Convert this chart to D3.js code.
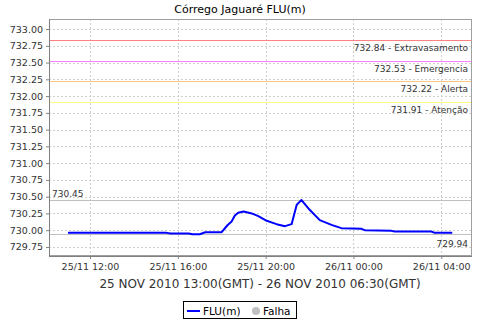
<!DOCTYPE html>
<html lang="pt">

<head>
	<meta charset="UTF-8" />
	<title>Córrego Jaguaré FLU(m)</title>
	<script src="https://cdn.jsdelivr.net/npm/d3@7"></script>
	<style>
		body { margin: 0; background: #fff; }
		text { font-family: "DejaVu Sans", sans-serif; }
	</style>
</head>

<body>
	<svg id="vis" width="480" height="320"></svg>
</body>

</html>
<script>
	// hora local (25/11 -> 26/11/2010)
	const times = [
		"2010-11-25 11:00", "2010-11-25 15:30", "2010-11-25 15:40", "2010-11-25 16:30",
		"2010-11-25 16:40", "2010-11-25 17:00", "2010-11-25 17:15", "2010-11-25 18:00",
		"2010-11-25 18:15", "2010-11-25 18:27", "2010-11-25 18:36", "2010-11-25 18:45",
		"2010-11-25 19:00", "2010-11-25 19:22", "2010-11-25 19:40", "2010-11-25 20:03",
		"2010-11-25 20:30", "2010-11-25 20:53", "2010-11-25 21:11", "2010-11-25 21:25",
		"2010-11-25 21:38", "2010-11-25 22:01", "2010-11-25 22:28", "2010-11-25 23:00",
		"2010-11-25 23:27", "2010-11-26 00:22", "2010-11-26 00:31", "2010-11-26 01:44",
		"2010-11-26 01:53", "2010-11-26 03:33", "2010-11-26 03:42", "2010-11-26 04:30"
	];
	const levels = [
		729.96, 729.96, 729.95, 729.95,
		729.94, 729.94, 729.97, 729.97,
		730.07, 730.13, 730.22, 730.26,
		730.28, 730.25, 730.21, 730.14,
		730.09, 730.06, 730.09, 730.38,
		730.45, 730.30, 730.15, 730.08,
		730.03, 730.02, 730.00, 729.99,
		729.98, 729.98, 729.96, 729.96
	];

	const thresholdValues = [732.84, 732.53, 732.22, 731.91];
	const thresholdNames = ["Extravasamento", "Emergencia", "Alerta", "Atenção"];
	const maxLevel = 730.45;
	const minLevel = 729.94;

	const yTicks = [729.75, 730.00, 730.25, 730.50, 730.75, 731.00, 731.25, 731.50,
		731.75, 732.00, 732.25, 732.50, 732.75, 733.00];
	const xDomain = ["2010-11-25 10:08", "2010-11-26 05:24"];
	const yDomain = [729.615, 733.15];

	const chartTitle = "Córrego Jaguaré FLU(m)";
	const xTitle = "25 NOV 2010 13:00(GMT) - 26 NOV 2010 06:30(GMT)";
	const seriesName = "FLU(m)";
	const failName = "Falha";

	const thresholdColors = ["#ff8080", "#ff80ff", "#ffc880", "#ffff80"];

	let parse = d3.utcParse("%Y-%m-%d %H:%M");
	let data = times.map((t, i) => ({ t: parse(t), v: levels[i] }));

	let pLeft = 49, pRight = 472, pTop = 19, pBottom = 256;

	let scaleX = d3.scaleUtc().domain(xDomain.map(parse)).range([pLeft, pRight]);
	let scaleY = d3.scaleLinear().domain(yDomain).range([pBottom, pTop]);

	let svg = d3.select("#vis");

	// titulo
	svg.append("text")
		.attr("x", 240).attr("y", 13)
		.attr("text-anchor", "middle")
		.attr("font-size", "11px")
		.attr("fill", "#000")
		.text(chartTitle);

	// grades
	let xTicks = scaleX.ticks(d3.utcHour.every(4));
	let grid = svg.append("g")
		.attr("stroke", "#cfcfcf")
		.attr("stroke-dasharray", "2,2")
		.attr("stroke-width", 1);
	grid.selectAll("line.h").data(yTicks).join("line")
		.attr("class", "h")
		.attr("x1", pLeft).attr("x2", pRight)
		.attr("y1", d => Math.round(scaleY(d)) + 0.5)
		.attr("y2", d => Math.round(scaleY(d)) + 0.5);
	grid.selectAll("line.v").data(xTicks).join("line")
		.attr("class", "v")
		.attr("y1", pTop).attr("y2", pBottom)
		.attr("x1", d => Math.round(scaleX(d)) + 0.5)
		.attr("x2", d => Math.round(scaleX(d)) + 0.5);

	// linhas de referencia
	let gMarks = svg.append("g");
	thresholdValues.forEach((v, i) => {
		let y = Math.round(scaleY(v)) + 0.5;
		gMarks.append("line")
			.attr("x1", pLeft).attr("x2", pRight)
			.attr("y1", y).attr("y2", y)
			.attr("stroke", thresholdColors[i]);
		gMarks.append("text")
			.attr("x", 468).attr("y", y + 10.5)
			.attr("text-anchor", "end")
			.attr("font-size", "9px")
			.attr("fill", "#333")
			.text(d3.format(".2f")(v) + " - " + thresholdNames[i]);
	});

	let yMax = Math.round(scaleY(maxLevel)) + 0.5;
	gMarks.append("line")
		.attr("x1", pLeft).attr("x2", pRight)
		.attr("y1", yMax).attr("y2", yMax)
		.attr("stroke", "#c0c0c0");
	gMarks.append("text")
		.attr("x", 52).attr("y", yMax - 4)
		.attr("font-size", "9px")
		.attr("fill", "#333")
		.text(d3.format(".2f")(maxLevel));

	let yMin = Math.round(scaleY(minLevel)) + 0.5;
	gMarks.append("line")
		.attr("x1", pLeft).attr("x2", pRight)
		.attr("y1", yMin).attr("y2", yMin)
		.attr("stroke", "#c0c0c0");
	gMarks.append("text")
		.attr("x", 468).attr("y", yMin + 12)
		.attr("text-anchor", "end")
		.attr("font-size", "9px")
		.attr("fill", "#333")
		.text(d3.format(".2f")(minLevel));

	// serie
	let line = d3.line().x(d => scaleX(d.t)).y(d => scaleY(d.v));
	svg.append("path")
		.datum(data)
		.attr("d", line)
		.attr("fill", "none")
		.attr("stroke", "#0000ff")
		.attr("stroke-width", 2)
		.attr("stroke-linejoin", "round");

	// borda
	svg.append("rect")
		.attr("x", pLeft + 0.5).attr("y", pTop + 0.5)
		.attr("width", pRight - pLeft - 1).attr("height", pBottom - pTop - 1)
		.attr("fill", "none")
		.attr("stroke", "#a0a0a0");

	// eixos
	let xAxis = d3.axisBottom(scaleX)
		.tickValues(xTicks)
		.tickFormat(d3.utcFormat("%d/%m %H:%M"))
		.tickSize(3).tickPadding(4);
	let gx = svg.append("g").attr("transform", "translate(0," + pBottom + ")").call(xAxis);

	let yAxis = d3.axisLeft(scaleY)
		.tickValues(yTicks)
		.tickFormat(d3.format(".2f"))
		.tickSize(3).tickPadding(3);
	let gy = svg.append("g").attr("transform", "translate(" + pLeft + ",0)").call(yAxis);

	[gx, gy].forEach(g => {
		g.select(".domain").attr("stroke", "#808080");
		g.selectAll(".tick line").attr("stroke", "#808080");
		g.selectAll(".tick text")
			.attr("fill", "#333")
			.attr("font-size", "9.5px")
			.attr("font-family", "DejaVu Sans, sans-serif");
	});
	gx.select(".domain").attr("d", "M" + pLeft + ",0.5H" + pRight);
	gy.select(".domain").attr("d", "M0.5," + pTop + "V" + pBottom);

	svg.append("text")
		.attr("x", 260).attr("y", 288)
		.attr("text-anchor", "middle")
		.attr("font-size", "12px")
		.attr("fill", "#333")
		.text(xTitle);

	// legenda
	let gLeg = svg.append("g");
	gLeg.append("rect")
		.attr("x", 183.5).attr("y", 301.5)
		.attr("width", 113).attr("height", 17)
		.attr("fill", "#fff")
		.attr("stroke", "#000");
	gLeg.append("line")
		.attr("x1", 187).attr("x2", 200)
		.attr("y1", 311).attr("y2", 311)
		.attr("stroke", "#0000ff").attr("stroke-width", 2);
	gLeg.append("text")
		.attr("x", 203).attr("y", 315)
		.attr("font-size", "10.5px")
		.attr("fill", "#000")
		.text(seriesName);
	gLeg.append("circle")
		.attr("cx", 256).attr("cy", 311).attr("r", 4)
		.attr("fill", "#c0c0c0");
	gLeg.append("text")
		.attr("x", 263).attr("y", 315)
		.attr("font-size", "10.5px")
		.attr("fill", "#000")
		.text(failName);
</script>
